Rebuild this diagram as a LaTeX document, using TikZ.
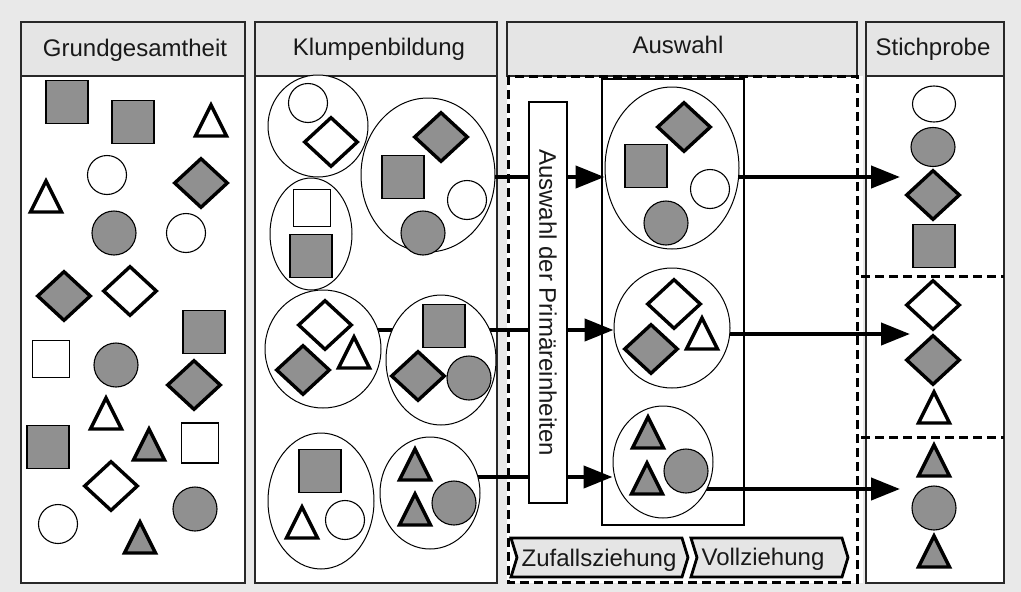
\documentclass[tikz,border=0pt]{standalone}
\usepackage{fontspec}
\setmainfont{Liberation Sans}
\usetikzlibrary{shapes.geometric,arrows.meta,calc}
\pgfdeclarelayer{back}
\pgfdeclarelayer{mid}
\pgfsetlayers{back,mid,main}
\definecolor{bgc}{RGB}{233,233,233}
\definecolor{headc}{RGB}{229,229,229}
\definecolor{shapegray}{RGB}{144,144,144}
\definecolor{linec}{RGB}{40,40,40}
\definecolor{textc}{RGB}{25,25,25}
\tikzset{
  panel/.style={draw=linec, line width=1.6pt, fill=white},
  head/.style={draw=linec, line width=1.6pt, fill=headc},
  dashbox/.style={draw=black, line width=3pt, dash pattern=on 9pt off 5pt},
  gsq/.style={rectangle, draw=black, line width=1.4pt, fill=shapegray, minimum width=42pt, minimum height=43pt, inner sep=0pt},
  wsq/.style={gsq, fill=white, minimum width=37pt, minimum height=37pt},
  gci/.style={circle, draw=black, line width=1.1pt, fill=shapegray, minimum size=44pt, inner sep=0pt},
  wci/.style={gci, fill=white, minimum size=39pt},
  gdi/.style={diamond, draw=black, line width=3.4pt, fill=shapegray, minimum width=54pt, minimum height=50pt, inner sep=0pt},
  wdi/.style={gdi, fill=white},
  clu/.style={ellipse, draw=black, line width=1pt, fill=white, inner sep=0pt},
  trishape/.style={draw=black, line width=3.4pt, line join=miter},
  arr/.style={line width=4.2pt, -{Triangle[length=29pt,width=22pt]}},
  txt/.style={font=\fontsize{24}{28}\selectfont, text=textc, inner sep=0pt},
  chev/.style={draw=black, line width=2.8pt, fill=headc, line join=miter},
}
\newcommand\mytri[4]{%
  \path (#1,#2) coordinate (#3);
  \draw[trishape, fill=#4] ([yshift=16pt]#3) -- ([xshift=-15.5pt,yshift=-15pt]#3) -- ([xshift=15.5pt,yshift=-15pt]#3) -- cycle;}
\begin{document}
\begin{tikzpicture}[x=1pt,y=-1pt]
\useasboundingbox (0,0) rectangle (1021,592);

% ---------- panels (back layer)
\begin{pgfonlayer}{back}
\fill[bgc] (0,0) rectangle (1021,592);
% panel 1
\draw[panel] (21,22) rectangle (245,583);
\draw[head] (21,22) rectangle (245,76);
% panel 2
\draw[panel] (255,22) rectangle (497,583);
\draw[head] (255,22) rectangle (497,76);
% panel 3
\fill[white] (507,76) rectangle (863,583);
\draw[head] (507,22) rectangle (857,76);
\draw[dashbox] (508,76) rectangle (857,582);
\draw[draw=black, line width=1.3pt] (602,79) rectangle (744,525);
% panel 4
\draw[panel] (866,22) rectangle (1004,583);
\draw[head] (866,22) rectangle (1004,76);
\draw[dashbox] (861,276) -- (1004,276);
\draw[dashbox] (861,437) -- (1004,437);
\end{pgfonlayer}

% ---------- header texts
\node[txt, anchor=base] (t-grund) at (135,56) {Grundgesamtheit};
\node[txt, anchor=base] (t-klump) at (379,55) {Klumpenbildung};
\node[txt, anchor=base] (t-ausw) at (678,53) {Auswahl};
\node[txt, anchor=base] (t-stich) at (933,55) {Stichprobe};

% ---------- panel 1: Grundgesamtheit
\node[gsq] (g1) at (67,102) {};
\node[gsq] (g2) at (133,122) {};
\mytri{211}{121}{g3}{white}
\node[wci] (g4) at (107,175) {};
\node[gdi] (g5) at (201,183) {};
\mytri{46}{197}{g6}{white}
\node[gci] (g7) at (114,233) {};
\node[wci] (g8) at (186,233) {};
\node[gdi] (g9) at (64,296) {};
\node[wdi] (g10) at (130,291) {};
\node[gsq] (g11) at (204,332) {};
\node[wsq] (g12) at (51,359) {};
\node[gci] (g13) at (116,365) {};
\node[gdi] (g14) at (194,385) {};
\mytri{106}{414}{g15}{white}
\node[gsq] (g16) at (48,447) {};
\mytri{149}{445}{g17}{shapegray}
\node[wsq, minimum height=40pt] (g18) at (200,443) {};
\node[wdi] (g19) at (111,486) {};
\node[gci] (g20) at (195,509) {};
\node[wci] (g21) at (58,524) {};
\mytri{140}{538}{g22}{shapegray}

% ---------- panel 2: Klumpenbildung (clusters)
\node[clu, minimum width=100pt, minimum height=102pt] (A) at (318,126) {};
\node[clu, minimum width=134pt, minimum height=154pt] (B) at (428,175) {};
\node[clu, minimum width=82pt, minimum height=112pt] (C) at (311,234) {};
\node[clu, minimum width=116pt, minimum height=118pt] (D) at (323,349) {};
\node[clu, minimum width=110pt, minimum height=130pt] (E) at (441,360) {};
\node[clu, minimum width=106pt, minimum height=136pt] (F) at (321,501) {};
\node[clu, minimum width=100pt, minimum height=112pt] (G) at (430,493) {};

\node[wci] (a1) at (308,103) {};
\node[wdi] (a2) at (331,142) {};
\node[gdi] (b1) at (441,137) {};
\node[gsq] (b2) at (403,177) {};
\node[wci] (b3) at (467,200) {};
\node[gci] (b4) at (423,233) {};
\node[wsq] (c1) at (312,208) {};
\node[gsq] (c2) at (311,256) {};
\node[wdi] (d1) at (325,325) {};
\node[gdi] (d2) at (303,370) {};
\mytri{354}{353}{d3}{white}
\node[gsq] (e1) at (444,326) {};
\node[gdi] (e2) at (418,376) {};
\node[gci] (e3) at (469,378) {};
\node[gsq] (f1) at (320,471) {};
\mytri{302}{523}{f2}{white}
\node[wci] (f3) at (345,520) {};
\mytri{415}{465}{gg1}{shapegray}
\mytri{415}{510}{gg2}{shapegray}
\node[gci] (gg3) at (454,503) {};

% ---------- panel 3: Auswahl
\node[clu, minimum width=134pt, minimum height=162pt] (H) at (672,168) {};
\node[clu, minimum width=116pt, minimum height=120pt] (I) at (672,328) {};
\node[clu, minimum width=100pt, minimum height=112pt] (J) at (663,462) {};

\node[gdi] (h1) at (684,127) {};
\node[gsq] (h2) at (646,166) {};
\node[wci] (h3) at (710,189) {};
\node[gci] (h4) at (666,223) {};
\node[wdi] (i1) at (674,304) {};
\node[gdi] (i2) at (651,349) {};
\mytri{702}{334}{i3}{white}
\mytri{648}{433}{j1}{shapegray}
\mytri{647}{479}{j2}{shapegray}
\node[gci] (j3) at (686,471) {};

% ---------- panel 4: Stichprobe
\node[ellipse, draw=black, line width=1.1pt, fill=white, inner sep=0pt, minimum width=43pt, minimum height=36pt] (s1) at (934,104) {};
\node[ellipse, draw=black, line width=1.1pt, fill=shapegray, inner sep=0pt, minimum width=44pt, minimum height=39pt] (s2) at (933,147) {};
\node[gdi] (s3) at (933,195) {};
\node[gsq] (s4) at (934,246) {};
\node[wdi] (s5) at (933,305) {};
\node[gdi] (s6) at (933,360) {};
\mytri{934}{408}{s7}{white}
\mytri{934}{461}{s8}{shapegray}
\node[gci] (s9) at (934,508) {};
\mytri{934}{552}{s10}{shapegray}

% ---------- arrows (mid layer)
\coordinate (r1) at (0,177);
\coordinate (r2) at (0,330);
\coordinate (r3) at (0,477);
\coordinate (o1) at (900,177);
\coordinate (o2) at (910,334);
\coordinate (o3) at (900,489);
\begin{pgfonlayer}{mid}
\draw[arr] (B.center |- r1) -- (H.west |- r1);
\draw[arr] (D.center |- r2) -- (I.west |- r2);
\draw[arr] (G.center |- r3) -- (J.west |- r3);
\draw[arr] (H.center |- o1) -- (o1);
\draw[arr] (I.center |- o2) -- (o2);
\draw[arr] (J.center |- o3) -- (o3);
\end{pgfonlayer}

% ---------- vertical box
\node[txt, rotate=-90, draw=black, line width=1.3pt, fill=white, minimum width=401pt, minimum height=38pt] (prim) at (548,302.5) {Auswahl der Primäreinheiten};

% ---------- chevrons
\draw[chev] (511,538) -- (682,538) -- (688,557.5) -- (682,577) -- (511,577) -- (517,557.5) -- cycle;
\draw[chev] (691,538) -- (842,538) -- (848,557.5) -- (842,577) -- (691,577) -- (697,557.5) -- cycle;
\node[txt, anchor=base] (zuf) at (599,566) {Zufallsziehung};
\node[txt, anchor=base] (voll) at (763,565) {Vollziehung};
\end{tikzpicture}
\end{document}
